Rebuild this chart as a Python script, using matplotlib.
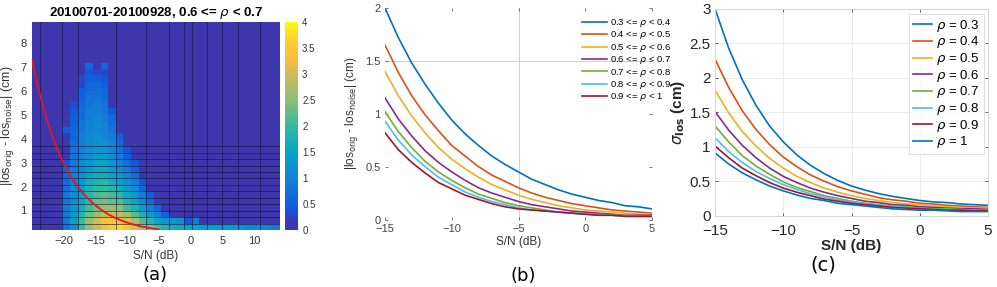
import numpy as np
import matplotlib
matplotlib.use("Agg")
import matplotlib.pyplot as plt
from matplotlib.colors import LinearSegmentedColormap

plt.rcParams['font.family'] = ['Liberation Sans', 'DejaVu Sans']
plt.rcParams['mathtext.fontset'] = 'dejavusans'

# ---------------- data: panel (a) ----------------
hist_x0 = -25.0        # first bin edge (dB)
hist_dx = 1.2          # bin width (dB)
hist_ncols = 33
hist_y0 = 0.18         # first bin edge (cm)
hist_dy = 0.27         # bin height (cm)
hist_nrows = 33
# values per column (column index -> list of values from the lowest row upward)
hist_columns = {
    4: [0.8, 0.8, 0.9, 0.9, 0.8, 0.8, 0.7, 0.7, 0.6, 0.5, 0.4, 0, 0, 0, 0, 0.5],
    5: [1.2, 1.5, 1.4, 1.3, 1.2, 1.2, 1.1, 1.0, 1.0, 0.9, 0.9, 0.8, 0.8, 0.7, 0.6, 0.6, 0.5, 0.5, 0.4, 0.3],
    6: [2.0, 2.1, 1.9, 1.7, 1.6, 1.5, 1.4, 1.3, 1.2, 1.1, 1.1, 1.0, 1.0, 0.9, 0.9, 0.8, 0.8, 0.7, 0.7, 0.6,
        0.5, 0.5, 0.3, 0.3],
    7: [2.6, 2.6, 2.3, 2.1, 2.0, 1.9, 1.8, 1.7, 1.5, 1.4, 1.3, 1.2, 1.2, 1.1, 1.1, 1.0, 1.0, 0.9, 0.9, 0.8,
        0.8, 0.7, 0.6, 0.5, 0.4, 0.6],
    8: [3.0, 3.0, 2.6, 2.4, 2.3, 2.1, 2.0, 1.8, 1.7, 1.6, 1.5, 1.4, 1.3, 1.2, 1.2, 1.1, 1.1, 1.0, 0.9, 0.9,
        0.8, 0.7, 0.6, 0.5, 0.3],
    9: [3.3, 3.3, 2.9, 2.6, 2.4, 2.2, 2.0, 1.9, 1.7, 1.6, 1.5, 1.4, 1.3, 1.2, 1.1, 1.0, 1.0, 0.9, 0.8, 0.8,
        0.7, 0.6, 0.5, 0.4, 0.3, 0.6],
    10: [3.6, 3.5, 3.0, 2.6, 2.3, 2.1, 1.9, 1.7, 1.5, 1.4, 1.3, 1.2, 1.1, 1.0, 0.9, 0.8, 0.7, 0.6, 0.4],
    11: [3.7, 3.4, 2.9, 2.5, 2.2, 1.9, 1.7, 1.5, 1.3, 1.2, 1.0, 0.9, 0.8, 0.6, 0.5],
    12: [3.5, 3.1, 2.6, 2.1, 1.8, 1.6, 1.4, 1.2, 1.0, 0.9, 0.7, 0.5, 0.4],
    13: [3.1, 2.7, 2.2, 1.8, 1.5, 1.3, 1.1, 0.9, 0.7, 0.5, 0.4],
    14: [2.7, 2.2, 1.8, 1.4, 1.1, 0.9, 0.6, 0.4],
    15: [2.4, 1.9, 1.4, 1.0, 0.7, 0.5],
    16: [2.1, 1.5, 1.0, 0.6],
    17: [1.8, 1.3, 0.5],
    18: [1.7, 1.3],
    19: [1.6, 1.2],
    20: [1.5, 0.4],
    21: [1.5, 0.9],
    22: [1.4], 23: [1.4], 24: [1.3], 25: [1.3], 26: [1.3],
    27: [1.2], 28: [1.1], 29: [1.1], 30: [1.0], 31: [0.9], 32: [0.9],
}
# dark edge lines seen in the image (column / row edge indices)
edge_cols = [1, 4, 6, 11, 15, 18, 20, 21, 23, 25, 27, 30]
edge_rows = list(range(1, 14))

fit_snr = [-25, -24, -23, -22, -21, -20, -19, -18, -17, -16, -15, -14, -13, -12, -11, -10, -9, -8, -7, -6, -5]
fit_val = [7.30, 6.10, 5.09, 4.26, 3.56, 2.97, 2.48, 2.07, 1.73, 1.45, 1.21, 1.01, 0.84, 0.70, 0.59, 0.49,
           0.41, 0.34, 0.29, 0.24, 0.20]

# ---------------- data: panels (b), (c) ----------------
snr = list(range(-15, 6))

b_labels = ['0.3 <= $\\rho$ < 0.4', '0.4 <= $\\rho$ < 0.5', '0.5 <= $\\rho$ < 0.6', '0.6 <= $\\rho$ < 0.7',
            '0.7 <= $\\rho$ < 0.8', '0.8 <= $\\rho$ < 0.9', '0.9 <= $\\rho$ < 1']
b_03 = [2.00, 1.72, 1.48, 1.28, 1.10, 0.94, 0.81, 0.70, 0.60, 0.52, 0.45, 0.38, 0.33, 0.28, 0.24, 0.21, 0.18, 0.16, 0.13, 0.12, 0.10]
b_04 = [1.65, 1.39, 1.17, 0.99, 0.84, 0.70, 0.60, 0.50, 0.42, 0.36, 0.30, 0.25, 0.21, 0.18, 0.15, 0.13, 0.11, 0.09, 0.08, 0.07, 0.06]
b_05 = [1.40, 1.17, 0.98, 0.82, 0.68, 0.57, 0.48, 0.40, 0.33, 0.28, 0.23, 0.19, 0.16, 0.13, 0.11, 0.09, 0.08, 0.07, 0.06, 0.05, 0.05]
b_06 = [1.15, 0.95, 0.79, 0.65, 0.54, 0.45, 0.37, 0.30, 0.25, 0.21, 0.17, 0.14, 0.12, 0.10, 0.08, 0.07, 0.06, 0.05, 0.04, 0.04, 0.04]
b_07 = [1.02, 0.83, 0.68, 0.55, 0.45, 0.37, 0.30, 0.24, 0.20, 0.16, 0.13, 0.11, 0.09, 0.07, 0.06, 0.05, 0.05, 0.04, 0.04, 0.03, 0.03]
b_08 = [0.93, 0.75, 0.61, 0.50, 0.40, 0.33, 0.26, 0.21, 0.17, 0.14, 0.11, 0.09, 0.08, 0.07, 0.06, 0.05, 0.04, 0.04, 0.03, 0.03, 0.03]
b_09 = [0.82, 0.66, 0.54, 0.44, 0.35, 0.29, 0.23, 0.19, 0.15, 0.12, 0.10, 0.09, 0.08, 0.07, 0.06, 0.05, 0.04, 0.04, 0.03, 0.03, 0.03]

c_labels = ['$\\rho$ = 0.3', '$\\rho$ = 0.4', '$\\rho$ = 0.5', '$\\rho$ = 0.6',
            '$\\rho$ = 0.7', '$\\rho$ = 0.8', '$\\rho$ = 0.9', '$\\rho$ = 1']
c_03 = [3.00, 2.43, 1.97, 1.60, 1.30, 1.07, 0.88, 0.73, 0.61, 0.51, 0.43, 0.37, 0.32, 0.28, 0.25, 0.22, 0.20, 0.19, 0.17, 0.16, 0.15]
c_04 = [2.27, 1.86, 1.52, 1.25, 1.03, 0.85, 0.71, 0.59, 0.50, 0.42, 0.36, 0.31, 0.26, 0.23, 0.21, 0.18, 0.17, 0.15, 0.14, 0.13, 0.12]
c_05 = [1.82, 1.49, 1.22, 1.01, 0.83, 0.69, 0.57, 0.48, 0.40, 0.34, 0.29, 0.25, 0.22, 0.19, 0.17, 0.16, 0.14, 0.13, 0.12, 0.11, 0.11]
c_06 = [1.51, 1.24, 1.02, 0.84, 0.69, 0.57, 0.48, 0.40, 0.34, 0.29, 0.25, 0.21, 0.19, 0.16, 0.15, 0.13, 0.12, 0.11, 0.10, 0.10, 0.09]
c_07 = [1.30, 1.07, 0.87, 0.72, 0.60, 0.49, 0.41, 0.35, 0.29, 0.25, 0.21, 0.18, 0.16, 0.14, 0.13, 0.11, 0.10, 0.10, 0.09, 0.08, 0.08]
c_08 = [1.13, 0.93, 0.77, 0.64, 0.54, 0.45, 0.38, 0.32, 0.27, 0.23, 0.20, 0.17, 0.15, 0.13, 0.12, 0.10, 0.09, 0.09, 0.08, 0.07, 0.07]
c_09 = [1.01, 0.84, 0.69, 0.58, 0.48, 0.40, 0.34, 0.29, 0.24, 0.21, 0.18, 0.16, 0.14, 0.12, 0.11, 0.10, 0.09, 0.08, 0.08, 0.07, 0.07]
c_10 = [0.91, 0.75, 0.62, 0.52, 0.43, 0.36, 0.30, 0.25, 0.22, 0.18, 0.16, 0.14, 0.12, 0.10, 0.09, 0.08, 0.08, 0.07, 0.06, 0.06, 0.06]

mcolors = ['#0072BD', '#D95319', '#EDB120', '#7E2F8E', '#77AC30', '#4DBEEE', '#A2142F', '#0072BD']

# parula-like colormap
parula = LinearSegmentedColormap.from_list('parula', [
    (0.00, (0.24, 0.21, 0.68)),
    (0.05, (0.21, 0.24, 0.72)),
    (0.11, (0.06, 0.36, 0.87)),
    (0.24, (0.08, 0.50, 0.84)),
    (0.37, (0.02, 0.64, 0.79)),
    (0.49, (0.18, 0.72, 0.64)),
    (0.62, (0.53, 0.75, 0.47)),
    (0.75, (0.82, 0.73, 0.35)),
    (0.83, (0.99, 0.75, 0.24)),
    (0.90, (0.99, 0.79, 0.20)),
    (1.00, (0.98, 0.98, 0.05)),
])

fig = plt.figure(figsize=(9.97, 2.87), dpi=100)
W, H = 997.0, 287.0

def box(l, t, r, b):
    return [l / W, 1 - b / H, (r - l) / W, (b - t) / H]

# ---------------- panel (a) ----------------
ax_a = fig.add_axes(box(32, 22, 280, 230))
xe = hist_x0 + hist_dx * np.arange(hist_ncols + 1)
ye = hist_y0 + hist_dy * np.arange(hist_nrows + 1)
Z = np.zeros((hist_nrows, hist_ncols))
for c, vals in hist_columns.items():
    for r, v in enumerate(vals):
        Z[r, c] = v
mesh = ax_a.pcolormesh(xe, ye, Z, cmap=parula, vmin=0, vmax=4, shading='flat')
for k in edge_cols:
    ax_a.axvline(xe[k], color='#14143c', lw=0.6, alpha=0.7)
for j in edge_rows:
    ax_a.axhline(ye[j], color='#14143c', lw=0.6, alpha=0.7)
ax_a.plot(fit_snr, fit_val, color='#e8141e', lw=1.3)
ax_a.set_xlim(-25, 14.1)
ax_a.set_ylim(0.18, 8.9)
ax_a.set_xticks([-20, -15, -10, -5, 0, 5, 10])
ax_a.set_yticks([1, 2, 3, 4, 5, 6, 7, 8])
ax_a.tick_params(labelsize=8, colors='#333333', length=0, pad=4)
for s in ax_a.spines.values():
    s.set_visible(False)
ax_a.set_xlabel('S/N (dB)', fontsize=8.5, color='#333333', labelpad=3)
ax_a.set_ylabel('|los$_{\\rm orig}$ - los$_{\\rm noise}$| (cm)', fontsize=9, color='#333333', labelpad=3)
ax_a.set_title('20100701-20100928, 0.6 <= $\\rho$ < 0.7', fontsize=9.5, fontweight='bold', pad=4)

cax = fig.add_axes(box(285, 22, 298, 230))
cb = fig.colorbar(mesh, cax=cax, ticks=[0, 0.5, 1, 1.5, 2, 2.5, 3, 3.5, 4])
cb.ax.set_yticklabels(['0', '0.5', '1', '1.5', '2', '2.5', '3', '3.5', '4'])
cb.ax.tick_params(labelsize=7, colors='#333333', length=0, pad=3)
cb.outline.set_visible(False)

fig.text(155 / W, 1 - 275 / H, '(a)', fontsize=13, ha='center', va='center', family='DejaVu Sans')

# ---------------- panel (b) ----------------
ax_b = fig.add_axes(box(385, 8, 652, 219.5))
for vals, lab, col in zip([b_03, b_04, b_05, b_06, b_07, b_08, b_09], b_labels, mcolors):
    ax_b.plot(snr, vals, color=col, lw=1.2, label=lab)
ax_b.axvline(-5, color='#cfcfcf', lw=0.7, zorder=0)
ax_b.axhline(1.5, color='#cfcfcf', lw=0.7, zorder=0)
ax_b.set_xlim(-15, 5)
ax_b.set_ylim(0, 2)
ax_b.set_xticks([-15, -10, -5, 0, 5])
ax_b.set_yticks([0, 0.5, 1, 1.5, 2])
ax_b.set_yticklabels(['0', '0.5', '1', '1.5', '2'])
ax_b.tick_params(labelsize=8, colors='#444444', direction='in', length=2, width=0.5,
                 top=True, right=True, pad=3)
for s in ax_b.spines.values():
    s.set_visible(False)
ax_b.set_xlabel('S/N (dB)', fontsize=8.5, color='#333333', labelpad=2)
ax_b.set_ylabel('|los$_{\\rm orig}$ - los$_{\\rm noise}$| (cm)', fontsize=8.5, color='#333333', labelpad=4)
leg_b = ax_b.legend(loc='upper right', bbox_to_anchor=(1.085, 0.975), frameon=False, fontsize=6.8,
                    handlelength=2.6, handletextpad=0.3, labelspacing=0.04, borderaxespad=0)
fig.text(523 / W, 1 - 276 / H, '(b)', fontsize=13, ha='center', va='center', family='DejaVu Sans')

# ---------------- panel (c) ----------------
ax_c = fig.add_axes(box(715, 8.7, 988, 215.7))
for vals, lab, col in zip([c_03, c_04, c_05, c_06, c_07, c_08, c_09, c_10], c_labels, mcolors):
    ax_c.plot(snr, vals, color=col, lw=1.2, label=lab)
ax_c.set_xlim(-15, 5)
ax_c.set_ylim(0, 3)
ax_c.set_xticks([-15, -10, -5, 0, 5])
ax_c.set_yticks([0, 0.5, 1, 1.5, 2, 2.5, 3])
ax_c.set_yticklabels(['0', '0.5', '1', '1.5', '2', '2.5', '3'])
ax_c.grid(True, color='#ebebeb', lw=0.7)
ax_c.set_axisbelow(True)
ax_c.tick_params(labelsize=11, colors='#262626', direction='in', length=2, width=0.5,
                 top=True, right=True, pad=3)
ax_c.tick_params(axis='x', pad=6)
for s in ax_c.spines.values():
    s.set_color('#d6d6d6')
    s.set_linewidth(0.7)
ax_c.set_xlabel('S/N (dB)', fontsize=11, fontweight='bold', color='#262626', labelpad=1)
ax_c.set_ylabel('$\\sigma_{\\mathbf{los}}$ (cm)', fontsize=11, fontweight='bold', color='#262626', labelpad=2)
leg_c = ax_c.legend(loc='upper right', bbox_to_anchor=(0.985, 0.975), frameon=True, fontsize=9.5,
                    handlelength=1.5, handletextpad=0.3, labelspacing=0.05, borderaxespad=0,
                    borderpad=0.3, fancybox=False)
leg_c.get_frame().set_edgecolor('#d6d6d6')
leg_c.get_frame().set_linewidth(0.7)
fig.text(823 / W, 1 - 265 / H, '(c)', fontsize=14, ha='center', va='center', family='DejaVu Sans')

fig.savefig('out.png', dpi=100)
